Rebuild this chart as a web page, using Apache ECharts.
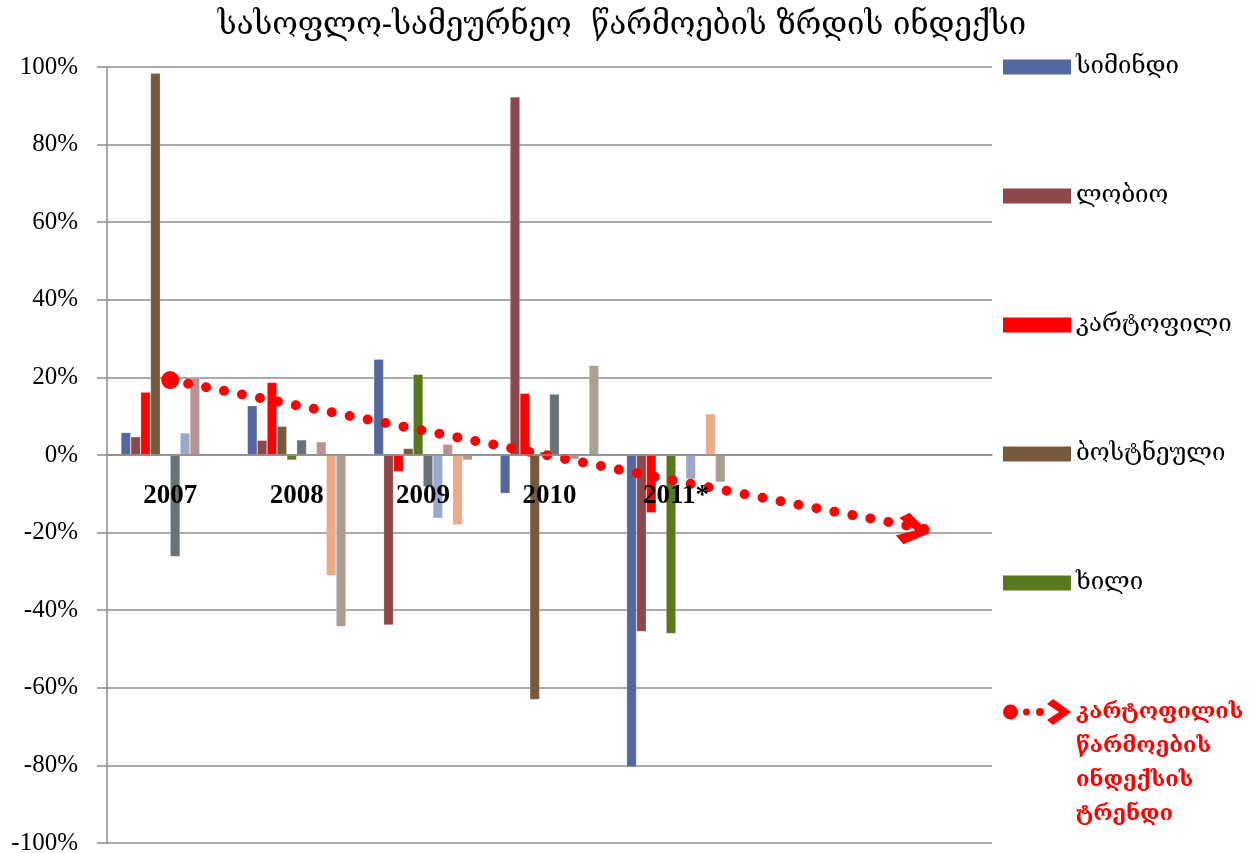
<!DOCTYPE html>
<html>
<head>
<meta charset="utf-8">
<script src="https://cdn.jsdelivr.net/npm/echarts@6/dist/echarts.min.js"></script>
<style>
  html, body { margin: 0; padding: 0; background: #fff; }
  #chart { width: 1260px; height: 853px; }
</style>
</head>
<body>
<div id="chart"></div>
<script>
// წლები (ბოლო ორი ცარიელია, ტრენდის გაგრძელებისთვის)
var categories = ['2007', '2008', '2009', '2010', '2011*', '', ''];

// ზრდის ინდექსი, %
var simindi   = [5.8, 12.7, 24.7, -9.9, -80.4, null, null];
var lobio     = [4.7, 3.8, -43.8, 92.3, -45.5, null, null];
var kartopili = [16.2, 18.7, -4.3, 15.9, -14.9, null, null];
var bostneuli = [98.4, 7.4, 1.7, -63.0, null, null, null];
var khili     = [null, -1.3, 20.8, 0.8, -46.0, null, null];
var seria6    = [-26.2, 3.9, -8.2, 15.7, null, null, null];
var seria7    = [5.7, null, -16.3, -0.6, -6.2, null, null];
var seria8    = [20.0, 3.4, 2.8, -1.1, null, null, null];
var seria9    = [null, -31.1, -18.0, null, 10.6, null, null];
var seria10   = [null, -44.2, -1.3, 23.1, -7.0, null, null];

// კარტოფილის ტრენდი (სურათიდან წაკითხული)
var trend = [19.3, 12.8, 6.3, -0.2, -6.7, -13.0, -19.3];

var yTicks = [-100, -80, -60, -40, -20, 0, 20, 40, 60, 80, 100];

var georgianFont = "'DejaVu Serif', 'DejaVu Sans', serif";
var trendName = 'კარტოფილის\nწარმოების\nინდექსის\nტრენდი';
// icon box is as tall as the 4 text lines, dots sit on the first line
var trendIcon = 'path://M0,0L0.01,0Z' +
  'M0,17a7.5,7.5 0 1,0 15,0a7.5,7.5 0 1,0 -15,0Z' +
  'M20,17a3.5,3.5 0 1,0 7,0a3.5,3.5 0 1,0 -7,0Z' +
  'M33,17a4,4 0 1,0 8,0a4,4 0 1,0 -8,0Z' +
  'M44,9L50,4L68,17L50,30L44,25L56,17Z' +
  'M0,136L0.01,136Z';

var grid = { left: 107, right: 268, top: 67, bottom: 10 };
var plotH = 853 - grid.top - grid.bottom;

function barSeries(name, data, color) {
  return {
    name: name,
    type: 'bar',
    data: data,
    barGap: 0,
    barCategoryGap: '22%',
    itemStyle: { color: color, borderColor: 'rgba(255,255,255,0.35)', borderWidth: 0.6 }
  };
}

var chart = echarts.init(document.getElementById('chart'));

var trendData = trend.map(function (v, i) {
  if (i === 0) return { value: v, symbol: 'circle', symbolSize: 18 };
  if (i === trend.length - 1) {
    return { value: v, symbol: 'path://M0,7L9,0L33,16L9,32L0,25L18,16Z', symbolSize: [33, 32],
      symbolRotate: -11, symbolOffset: [-15, 0] };
  }
  return { value: v, symbol: 'none' };
});

var option = {
  animation: false,
  title: {
    text: 'სასოფლო-სამეურნეო  წარმოების ზრდის ინდექსი',
    left: 617,
    textAlign: 'center',
    top: 5,
    textStyle: { fontFamily: georgianFont, fontWeight: 'normal', fontSize: 31, color: '#000' }
  },
  legend: [{
    orient: 'vertical',
    left: 1003,
    top: 55,
    padding: 0,
    itemWidth: 68,
    itemHeight: 15,
    itemGap: 105,
    icon: 'rect',
    itemStyle: { borderWidth: 0 },
    data: ['სიმინდი', 'ლობიო', 'კარტოფილი', 'ბოსტნეული', 'ხილი'],
    textStyle: { fontFamily: georgianFont, fontSize: 24, color: '#000', lineHeight: 24 }
  }, {
    orient: 'vertical',
    left: 1003,
    top: 695,
    padding: 0,
    itemWidth: 68,
    itemHeight: 136,
    icon: trendIcon,
    data: [trendName],
    textStyle: {
      fontFamily: georgianFont, fontSize: 22, color: '#ff0000', fontWeight: 'bold',
      lineHeight: 34
    }
  }],
  grid: {
    left: grid.left, right: grid.right, top: grid.top, bottom: grid.bottom,
    outerBoundsMode: 'none'
  },
  xAxis: {
    type: 'category',
    data: categories,
    z: 10,
    // axis sits on the 0% line
    offset: -plotH * (0 - yTicks[0]) / (yTicks[yTicks.length - 1] - yTicks[0]),
    axisLine: { onZero: false, lineStyle: { color: '#8c8c8c', width: 1.5 } },
    axisTick: { interval: 0, length: 8, lineStyle: { color: '#8c8c8c', width: 1.5 } },
    axisLabel: {
      interval: 0, margin: 28, color: '#000',
      fontFamily: "'Liberation Serif', serif", fontWeight: 'bold', fontSize: 27
    },
    splitLine: { show: false }
  },
  yAxis: {
    type: 'value',
    min: yTicks[0],
    max: yTicks[yTicks.length - 1],
    interval: 20,
    axisLine: { show: true, lineStyle: { color: '#8c8c8c', width: 1.5 } },
    axisTick: { show: true, length: 10, lineStyle: { color: '#8c8c8c', width: 1.5 } },
    axisLabel: {
      margin: 29, color: '#000', fontFamily: "'Liberation Serif', serif", fontSize: 25,
      formatter: function (v) { return v + '%'; }
    },
    splitLine: { lineStyle: { color: '#8c8c8c', width: 1.5 } }
  },
  series: [
    barSeries('სიმინდი', simindi, '#55679f'),
    barSeries('ლობიო', lobio, '#8c484a'),
    barSeries('კარტოფილი', kartopili, '#ff0000'),
    barSeries('ბოსტნეული', bostneuli, '#765a3e'),
    barSeries('ხილი', khili, '#58781e'),
    barSeries('s6', seria6, '#697276'),
    barSeries('s7', seria7, '#9aa8cc'),
    barSeries('s8', seria8, '#b99392'),
    barSeries('s9', seria9, '#ecaa88'),
    barSeries('s10', seria10, '#ab9d90'),
    {
      name: trendName,
      type: 'line',
      data: trendData,
      z: 5,
      color: '#ff0000',
      itemStyle: { color: '#ff0000' },
      lineStyle: { color: '#ff0000', width: 10, type: [0, 18.3], cap: 'round' }
    }
  ]
};

chart.setOption(option);
</script>
</body>
</html>
